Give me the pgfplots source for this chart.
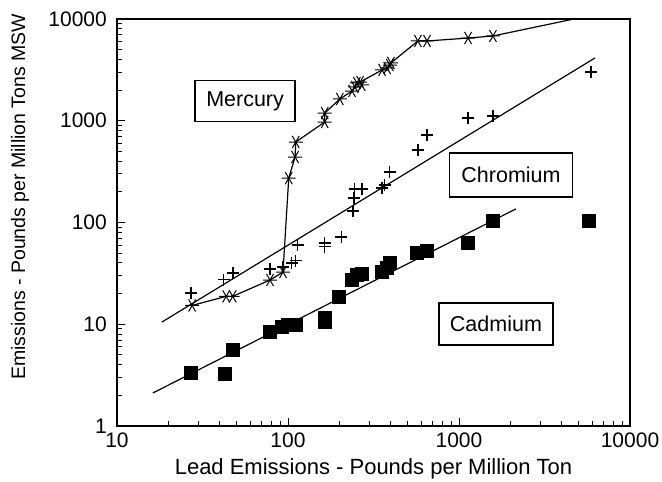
\documentclass[border=0pt]{standalone}
\usepackage{fontspec}
\setmainfont{Liberation Sans}
\usepackage{pgfplots}
\pgfplotsset{compat=1.18}
\usetikzlibrary{plotmarks}
\begin{document}
\begin{tikzpicture}
\path[use as bounding box] (-117pt,-56pt) rectangle (545pt,426pt);
\begin{axis}[
  at={(0,0)}, anchor=south west,
  scale only axis, width=513pt, height=407pt,
  xmode=log, ymode=log,
  xmin=10, xmax=10000, ymin=1, ymax=10000,
  log ticks with fixed point,
  /pgf/number format/1000 sep={},
  xtick={10,100,1000,10000}, ytick={1,10,100,1000,10000},
  tick align=inside, xtick pos=bottom, ytick pos=left,
  major tick length=8pt, minor tick length=5pt,
  every tick/.style={black, line width=1pt},
  axis line style={line width=1.6pt},
  /pgf/number format/assume math mode=true,
  tick label style={font=\fontsize{21}{24}\selectfont, inner sep=1pt},
  xticklabel style={yshift=-6pt},
  yticklabel style={xshift=-9pt},
  xlabel={Lead Emissions - Pounds per Million Ton},
  ylabel={Emissions - Pounds per Million Tons MSW},
  xlabel style={font=\fontsize{22}{26}\selectfont, at={(axis description cs:0.5,-0.120)}, anchor=base},
  ylabel style={font=\fontsize{19.5}{23}\selectfont, at={(axis description cs:-0.189,0.563)}, anchor=center},
  clip=true,
]
% Mercury connecting line
\addplot[black, line width=1.2pt, no marks] coordinates {
(27.5,15.3) (43.5,18.8) (47.5,18.8) (78.5,27.2) (93.5,32.6) (101,273) (110,440) (111,618)
(164,972) (164,1190) (201,1636) (237,1960) (246,2150) (253,2350) (264,2400)
(355,3155) (380,3300) (394,3530) (400,3700) (575,6080) (650,6080) (1130,6500) (1580,6810) (4700,10000)
};
% Mercury markers
\addplot[black, only marks, mark=asterisk, mark size=7pt, mark options={rotate=90, line width=1pt}] coordinates {
(27.5,15.3) (43.5,18.8) (47.5,18.8) (78.5,27.2) (93.5,32.6) (101,273) (110,440) (111,618)
(164,972) (164,1190) (201,1636) (237,1960) (246,2150) (253,2350) (264,2400) (270,2250)
(355,3155) (380,3300) (394,3530) (400,3700) (575,6080) (650,6080) (1130,6500) (1580,6810)
};
% Chromium regression line
\addplot[black, line width=1.2pt, no marks] coordinates {(18.3,10.5) (6240,4140)};
% Chromium markers
\addplot[black, only marks, mark=+, mark size=6pt, mark options={line width=1.3pt}] coordinates {
(27.1,20.3) (42,27.5) (47.6,31.9) (78.5,34.9) (93.5,36.5) (105,40) (111,42) (114,60)
(164,58) (164,63) (205,72) (240,130) (243,174) (245,213) (271,213) (355,218) (368,233)
(394,313) (575,516) (650,724) (1130,1064) (1580,1114) (5920,3015)
};
% Cadmium regression line
\addplot[black, line width=1.2pt, no marks] coordinates {(16.2,2.11) (2150,136)};
% Cadmium markers
\addplot[black, only marks, mark=square*, mark size=6.5pt] coordinates {
(27.1,3.32) (42.8,3.3) (47.6,5.6) (78.5,8.4) (92,9.4) (100,9.8) (111,9.9) (164,10.5)
(164,11.5) (199,18.5) (237,27.5) (253,30.5) (270,31.5) (355,32.6) (380,35.7) (394,40)
(568,50) (650,52.5) (1130,63) (1580,104) (5750,103)
};
\node[draw, line width=1.2pt, fill=white, font=\fontsize{21.5}{24}\selectfont, minimum width=100pt, minimum height=41pt, inner sep=0pt] at (axis cs:56.1,1563) {Mercury};
\node[draw, line width=1.2pt, fill=white, font=\fontsize{21.5}{24}\selectfont, minimum width=123pt, minimum height=44pt, inner sep=0pt] at (axis cs:2014,293) {Chromium};
\node[draw, line width=1.2pt, fill=white, font=\fontsize{21.5}{24}\selectfont, minimum width=114pt, minimum height=42pt, inner sep=0pt] at (axis cs:1645,10.06) {Cadmium};
\end{axis}
\end{tikzpicture}
\end{document}
